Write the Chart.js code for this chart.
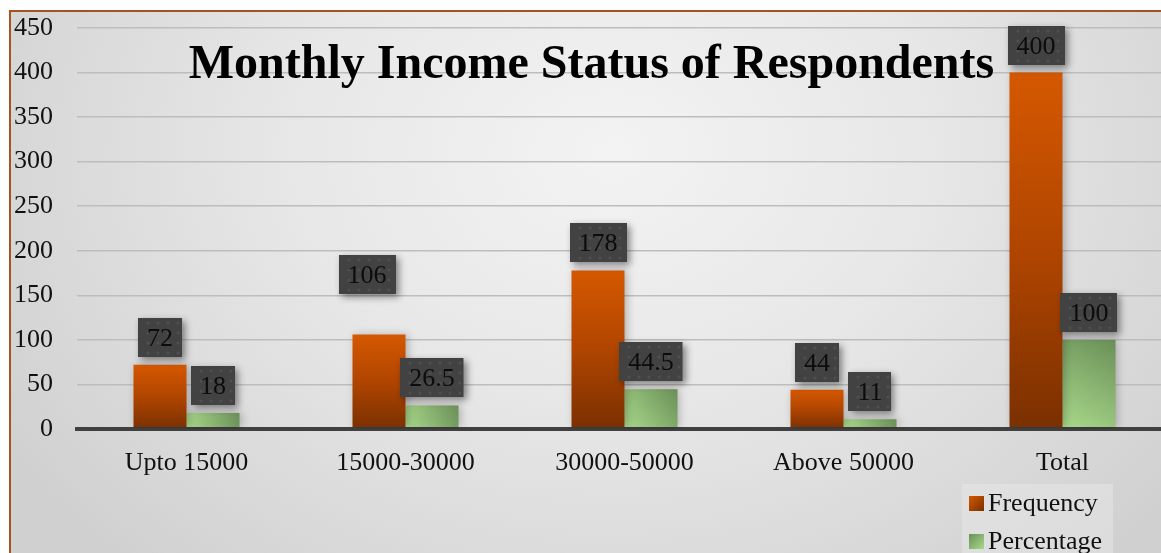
<!DOCTYPE html>
<html>
<head>
<meta charset="utf-8">
<title>Monthly Income Status of Respondents</title>
<script src="https://cdn.jsdelivr.net/npm/chart.js@4.4.1/dist/chart.umd.min.js"></script>
<style>
  html, body { margin: 0; padding: 0; width: 1161px; height: 553px; overflow: hidden; background: #ffffff; }
  #frame {
    position: absolute; left: 9px; top: 10px; width: 1180px; height: 560px;
    border-left: 2px solid #a3541f; border-top: 2px solid #a3541f;
    background: radial-gradient(ellipse 720px 560px at 600px 140px, #f3f3f3 0%, #e7e7e7 45%, #d0d0d0 100%);
  }
  #chart { position: absolute; left: 0; top: 0; }
</style>
</head>
<body>
<div id="frame"><canvas id="chart" width="1180" height="545"></canvas></div>
<script>
// Income bands and survey counts
const categories = ['Upto 15000', '15000-30000', '30000-50000', 'Above 50000', 'Total'];
const frequency = [72, 106, 178, 44, 400];
const percentage = [18, 26.5, 44.5, 11, 100];
const yMin = 0;
const yMax = 450;
const yStep = 50;

const SERIF = "'Liberation Serif', 'Times New Roman', serif";
const CAT_PCT = 0.484;

const ok = (...v) => v.every(Number.isFinite);

// Vertical orange-to-brown fill for the frequency bars
function frequencyFill(c) {
  const chart = c.chart, ys = chart.scales.y;
  if (!ys || c.raw === undefined) return '#c04f00';
  const top = ys.getPixelForValue(c.raw), base = ys.getPixelForValue(0);
  if (!ok(top, base) || top === base) return '#c04f00';
  const g = chart.ctx.createLinearGradient(0, top, 0, base);
  g.addColorStop(0, '#d55800');
  g.addColorStop(0.5, '#b04500');
  g.addColorStop(1, '#7a3000');
  return g;
}

// Diagonal light-to-dark green fill for the percentage bars
function percentageFill(c) {
  const chart = c.chart, ys = chart.scales.y, xs = chart.scales.x;
  if (!ys || !xs || c.raw === undefined) return '#8fbf74';
  const top = ys.getPixelForValue(c.raw), base = ys.getPixelForValue(0);
  const cx = xs.getPixelForValue(c.dataIndex);
  const w = (xs.width / categories.length) * CAT_PCT / 2;
  if (!ok(top, base, cx, w) || w <= 0) return '#8fbf74';
  const g = chart.ctx.createLinearGradient(cx, base, cx + w, top);
  g.addColorStop(0, '#a9da8b');
  g.addColorStop(1, '#6a8f58');
  return g;
}

// Soft drop shadow under every bar
const barShadow = {
  id: 'barShadow',
  beforeDatasetDraw(chart) {
    const ctx = chart.ctx;
    ctx.save();
    ctx.shadowColor = 'rgba(0,0,0,0.25)';
    ctx.shadowBlur = 8;
    ctx.shadowOffsetX = 2;
    ctx.shadowOffsetY = 0;
  },
  afterDatasetDraw(chart) { chart.ctx.restore(); }
};

// Chart heading drawn across the plot
const heading = {
  id: 'heading',
  beforeDatasetsDraw(chart, args, opts) {
    const {ctx, chartArea} = chart;
    ctx.save();
    ctx.font = 'bold 48px ' + SERIF;
    ctx.fillStyle = '#000000';
    ctx.textAlign = 'center';
    ctx.textBaseline = 'alphabetic';
    ctx.fillText(opts.text, (chartArea.left + chartArea.right) / 2 - 33, chartArea.top + 50);
    ctx.restore();
  }
};

// Dark value callouts above the bars
const valueBoxes = {
  id: 'valueBoxes',
  afterDatasetsDraw(chart, args, opts) {
    const ctx = chart.ctx;
    chart.data.datasets.forEach((ds, di) => {
      const meta = chart.getDatasetMeta(di);
      const shifts = opts.shift[di] || [];
      meta.data.forEach((el, i) => {
        const text = String(ds.data[i]);
        const s = shifts[i] || [0, 0];
        ctx.save();
        ctx.font = '26px ' + SERIF;
        const w = ctx.measureText(text).width + 18;
        const h = 39;
        const cx = el.x + s[0];
        const bottom = el.y - 8 + s[1];
        const x0 = Math.round(cx - w / 2), y0 = Math.round(bottom - h);
        ctx.shadowColor = 'rgba(0,0,0,0.45)';
        ctx.shadowBlur = 7;
        ctx.shadowOffsetX = 3;
        ctx.shadowOffsetY = 3;
        ctx.fillStyle = '#424242';
        ctx.fillRect(x0, y0, w, h);
        ctx.shadowColor = 'transparent';
        ctx.fillStyle = 'rgba(255,255,255,0.07)';
        for (let yy = y0 + 5; yy < y0 + h; yy += 10) {
          for (let xx = x0 + 5 + ((yy - y0) % 20 ? 5 : 0); xx < x0 + w; xx += 10) {
            ctx.beginPath();
            ctx.arc(xx, yy, 1.6, 0, Math.PI * 2);
            ctx.fill();
          }
        }
        ctx.fillStyle = '#0c0c0c';
        ctx.textAlign = 'center';
        ctx.textBaseline = 'middle';
        ctx.fillText(text, cx, y0 + h / 2 + 2);
        ctx.restore();
      });
    });
  }
};

// Stacked legend in the lower right corner
const stackedLegend = {
  id: 'stackedLegend',
  afterDraw(chart) {
    const {ctx, chartArea} = chart;
    const left = chartArea.right - 210;
    const top = chartArea.bottom + 55;
    ctx.save();
    ctx.fillStyle = 'rgba(232,232,232,0.5)';
    ctx.fillRect(left, top, 151, 90);
    ctx.font = '26px ' + SERIF;
    ctx.textBaseline = 'middle';
    chart.data.datasets.forEach((ds, di) => {
      const cy = top + 19 + di * 38;
      const g = ctx.createLinearGradient(left + 7, cy - 7, left + 22, cy + 8);
      if (di === 0) { g.addColorStop(0, '#d55800'); g.addColorStop(1, '#7a3000'); }
      else { g.addColorStop(0, '#6a8f58'); g.addColorStop(1, '#a9da8b'); }
      ctx.fillStyle = g;
      ctx.fillRect(left + 7, cy - 7, 15, 15);
      ctx.fillStyle = '#111111';
      ctx.textAlign = 'left';
      ctx.fillText(ds.label, left + 26, cy + 1);
    });
    ctx.restore();
  }
};

new Chart(document.getElementById('chart'), {
  type: 'bar',
  data: {
    labels: categories,
    datasets: [
      { label: 'Frequency', data: frequency, backgroundColor: frequencyFill },
      { label: 'Percentage', data: percentage, backgroundColor: percentageFill }
    ]
  },
  options: {
    responsive: false,
    animation: false,
    devicePixelRatio: 1,
    barPercentage: 1,
    categoryPercentage: CAT_PCT,
    layout: { padding: { top: 16, left: 0, right: 19, bottom: 0 } },
    plugins: {
      legend: { display: false },
      title: { display: false },
      tooltip: { enabled: false },
      heading: { text: 'Monthly Income Status of Respondents' },
      valueBoxes: { shift: [[[0, 0], [-12, -33], [0, 0], [0, 0], [0, 0]], []] }
    },
    scales: {
      x: {
        grid: { display: false },
        border: { display: true, color: '#404040', width: 4 },
        ticks: { color: '#111111', font: { family: SERIF, size: 26 }, padding: 11 },
        afterFit(scale) { scale.height = 128; scale.paddingLeft = 0; scale.paddingRight = 0; }
      },
      y: {
        min: yMin,
        max: yMax,
        ticks: { stepSize: yStep, color: '#111111', font: { family: SERIF, size: 26 }, padding: 24 },
        grid: {
          drawTicks: false,
          color: c => (c.tick && c.tick.value === 0 ? '#404040' : '#bdbdbd'),
          lineWidth: c => (c.tick && c.tick.value === 0 ? 4 : 1.6)
        },
        border: { display: false },
        afterFit(scale) { scale.width = 66; scale.paddingTop = 0; scale.paddingBottom = 0; }
      }
    }
  },
  plugins: [barShadow, heading, valueBoxes, stackedLegend]
});
</script>
</body>
</html>
